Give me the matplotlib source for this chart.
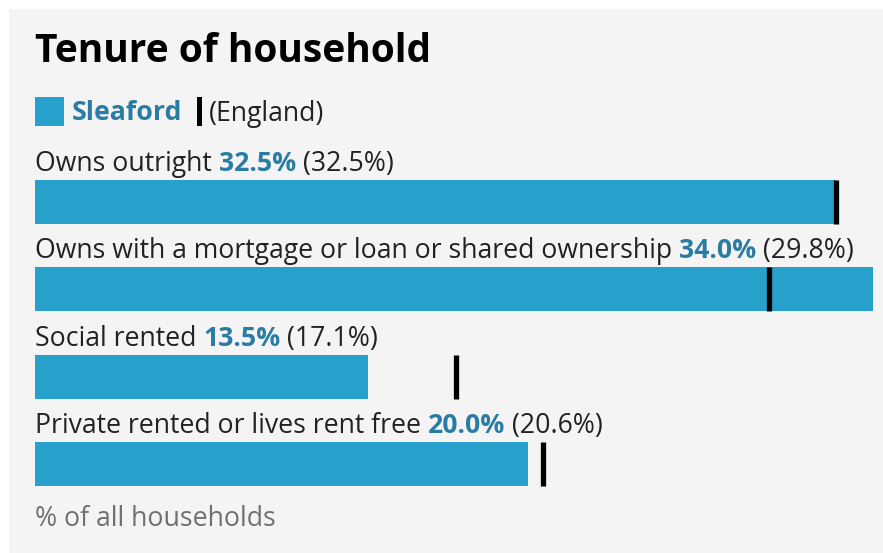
import matplotlib
matplotlib.use("Agg")
import matplotlib.pyplot as plt
from matplotlib.patches import Rectangle

plt.rcParams["font.family"] = ["Open Sans", "DejaVu Sans"]

title = "Tenure of household"
area_name = "Sleaford"
compare_name = "England"
categories = [
    "Owns outright",
    "Owns with a mortgage or loan or shared ownership",
    "Social rented",
    "Private rented or lives rent free",
]
area_values = [32.5, 34.0, 13.5, 20.0]
england_values = [32.5, 29.8, 17.1, 20.6]
footnote = "% of all households"

bar_color = "#27a0cc"
value_color = "#2a7ca4"
text_color = "#222222"
grey_text = "#707070"
panel_color = "#f4f4f4"

W, H = 883, 553
fig = plt.figure(figsize=(W / 100, H / 100), dpi=100)
fig.patch.set_facecolor("white")


def fx(px):
    return px / W


def fy(py):
    # pixel measured from top -> figure fraction
    return 1 - py / H


fig.patches.append(Rectangle((fx(9), 0), 1, fy(9), transform=fig.transFigure,
                             facecolor=panel_color, edgecolor="none", zorder=-5))

renderer = fig.canvas.get_renderer()


def pieces(x_px, y_px, parts, size):
    # draw a run of differently styled text pieces left to right
    x = x_px
    for s, color, weight in parts:
        t = fig.text(fx(x), fy(y_px), s, color=color, fontsize=size,
                     fontweight=weight, ha="left", va="center")
        bb = t.get_window_extent(renderer=renderer)
        x += bb.width
    return x


fs = 19.2
fig.text(fx(35), fy(51), title, fontsize=28, fontweight="bold",
         color="black", ha="left", va="center")

# legend
fig.patches.append(Rectangle((fx(35), fy(126)), fx(29), 29 / H, transform=fig.transFigure,
                             facecolor=bar_color, edgecolor="none"))
pieces(72, 113.5, [(area_name, value_color, "bold")], fs)
fig.patches.append(Rectangle((fx(197), fy(126)), fx(4.5), 29 / H, transform=fig.transFigure,
                             facecolor="black", edgecolor="none"))
pieces(209, 113.5, [("(" + compare_name + ")", text_color, "normal")], fs)

# bars
top_px, bot_px = 158.5, 507.5
ax = fig.add_axes([fx(35), fy(bot_px), fx(873 - 35), (bot_px - top_px) / H])
ax.set_xlim(0, max(area_values))
ax.set_ylim(len(categories) - 0.5, -0.5)
ax.axis("off")

ypos = list(range(len(categories)))
ax.barh(ypos, area_values, height=0.505, color=bar_color, edgecolor="none")
ax.vlines(england_values, [y - 0.2525 for y in ypos], [y + 0.2525 for y in ypos],
          color="black", linewidth=3.8, capstyle="butt")

row_px = (bot_px - top_px) / len(categories)
for i, cat in enumerate(categories):
    y_label = top_px + row_px * i + row_px * 0.5 - 38
    pieces(35, y_label, [
        (cat + " ", text_color, "normal"),
        (f"{area_values[i]:.1f}%", value_color, "bold"),
        (f" ({england_values[i]:.1f}%)", text_color, "normal"),
    ], fs)

fig.text(fx(35), fy(519), footnote, fontsize=fs, color=grey_text,
         ha="left", va="center")

fig.savefig("out.png", dpi=100, facecolor=fig.get_facecolor())
